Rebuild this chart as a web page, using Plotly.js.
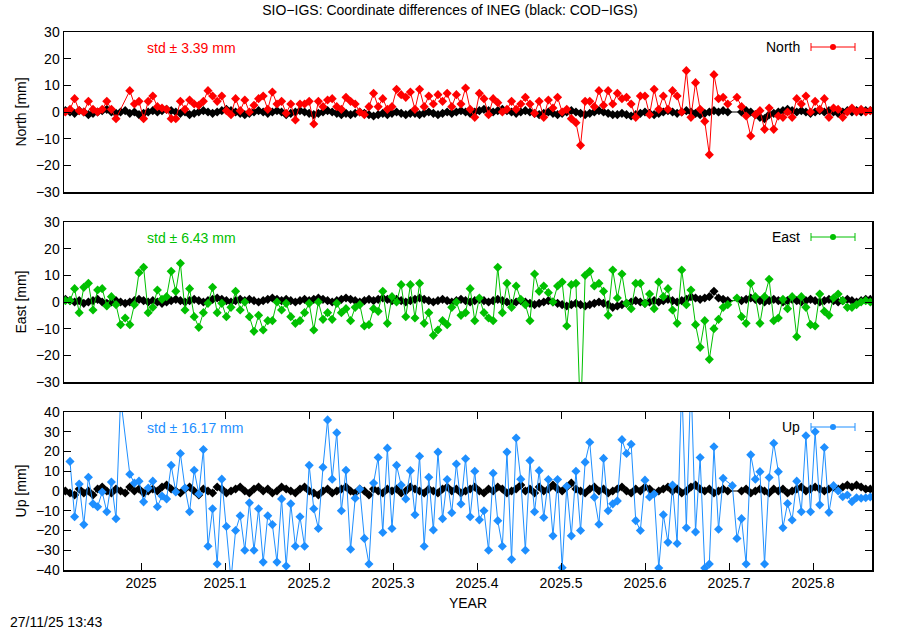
<!DOCTYPE html>
<html>
<head>
<meta charset="utf-8">
<script src="https://cdn.plot.ly/plotly-3.0.1.min.js"></script>
<style>html,body{margin:0;padding:0;background:#fff;}#chart{width:900px;height:630px;}</style>
</head>
<body>
<div id="chart"></div>
<script>
// ---- data: daily solutions sampled every 2 days starting at 2024.910 ----
const startYear = 2024.910;
const stepDays = 2;

const xTickVals = [2025, 2025.1, 2025.2, 2025.3, 2025.4, 2025.5, 2025.6, 2025.7, 2025.8];
const xTickText = ['2025', '2025.1', '2025.2', '2025.3', '2025.4', '2025.5', '2025.6', '2025.7', '2025.8'];
const neTicks = [-30, -20, -10, 0, 10, 20, 30];
const upTicks = [-40, -30, -20, -10, 0, 10, 20, 30, 40];

const northSIO = [0,1,5,0.5,0,4,1,0,1,4,1,-2.5,null,null,8,3,4,-2.5,4,6,2,1.5,1,-2.5,-2.5,4,1,4.5,3,2.5,4,8,6,4,6,0.5,-1,5,0.5,4.5,0,2.5,5,6,1,7.5,3,4,-0.5,3,-3,3,3,4,-4.5,4,2,4.5,5,2,
 1,5.5,4,3,0,-1,2,7,2,5,1,2,8.5,6.5,5.5,7.5,1,8.5,2,6,3,6.5,4,7,2,6.5,3,9,1,-2,7,5,-1,5,3.5,0,1,4,1,3,5.5,3,-0.5,4,-2,4.5,1.5,5.5,0,1,-2.5,-4,-12.5,4,4,2,8,2.5,8,3,
 7,5,5.5,3,-2,6,6,-1,8.5,1,6,1,8,6,0,15.5,-2,11,1,-3.5,-16,14,5,5.5,3,null,5.5,2,-1.5,-9,-1,0.5,-6.5,1.5,-6.5,-1.5,-2,0,-2,5,3,6,0,4,1,5,-2,1.5,1,-2,0,1.5,0,1,0,0.5];

const eastSIO = [0.5,0.5,5,-4,5.5,7,-3,4.5,5,-1.5,2,-1,-8.5,-6,-8.5,-1,11,13,-4,-2,4.5,1,2,11.5,4,14.5,-3,5,-5.5,-9.5,-4,-0.5,5.5,-4,-0.5,-5.5,-2,4,-3,0,-5.5,-11,-5,-10.5,-7,-7,0,-3,-0.5,-5.5,-8,-7,-4,-0.5,-10.5,0,-6.5,-4,-6.5,-0.5,
 -4,-2.5,-7,-2,-1,-9,-8.5,-2.5,-3.5,4,-8,2,0,6.5,-5.5,6.5,-6,7,-8,-4,-12.5,-10.5,-7,-8.5,-2,0,-5,-4,5,-7,1.5,-4,-6,-7,13,-4,7,-2,6,1,-1,-7,10.5,4,6,3.5,0,6,7.5,-9,6.5,7,-45,10,11.5,6,7,4,-5,12,
 1.5,10.5,-0.5,-2.5,7,7,-0.5,3,-2.5,7.5,2,5,-3,-8,12,-1,4.5,-8.5,-17,-7,-21.5,-10,-6.5,-2,-1,null,1.5,-5.5,-8,7,2,-8,2,8.5,-7,-6,1,-2.5,2,-13,2,-2,-8.5,-9,3,-3.5,-5,1.5,3,0.5,-2,-2,-1,0,0.5,0];

const upSIO = [null,15,-13,3.5,-17,7,-6.5,-8,-0.5,-10.5,4.5,-14,47,null,8.5,4,5,-5.5,1.5,5,-8,-2.5,-4,13,-0.5,19,1.5,-10.5,10.5,-1.5,21,-28,-9,-37,6,-18,-45,-20,-12.5,-30,-6,-30,-9,-36,-12.5,-17,-36,-4,-38,-6.5,-28,-13,-28,13,-9,-19,12,36,6,29.5,
 -10,10.5,-29.5,-3.7,1,-24,-37,4,17,-21,21.7,-19,13,3,-4,10.3,-12,17.6,-28,7,-19.7,19.7,-14,5.8,-11,13.7,-6.6,16.3,-13,10,-14.6,-10,-30,9,-15,-28,19.7,-34.6,26.8,6,-30,15.4,-10.5,10.3,-13.4,5.8,-22.7,5.8,-38.8,2.4,-22.7,10,-20,14.6,24.7,-3.2,-16.8,16.5,-10,-6.5,
 -5,26,19,23.7,-15,-20,5.5,-3,-1.5,-39,-12,-26,3,-26.6,55,-18.6,58,-20.7,17,-39,-37,22.4,-19.4,6.4,null,2.7,-24,-14,-37,18.3,6,9.8,-37,6.8,24.2,9.8,-18.6,-6.3,-14.7,5,-10.5,28,-10.5,30,-7,22,-10.8,2.7,0,-2.9,-2,-5.4,-3.4,-3.7,-3.4,-3];

const northCOD = [0.5,0,-0.5,0.5,0,-1,-0.5,0,0.5,1,0,-0.5,0,0.5,-0.5,0,-1,-0.5,0,0.5,
 0,0.5,1,0.5,0,-0.5,0,-1,-0.5,0,0.5,0,-0.5,0,0.5,1,0.5,0,-0.5,-1,
 -0.5,0,0.5,0,-0.5,0,0.5,0,-1,-0.5,0,0.5,0,-0.5,-1,-0.5,0,0.5,0,-0.5,
 -1,-0.5,-1,-0.5,0,-0.5,-1,-1.5,-1,-0.5,-1,-0.5,0,-0.5,-1,-0.5,-0.5,-1,-0.5,0,
 -0.5,-1,-0.5,0,-0.5,0,0.5,0,-0.5,0,0.5,1,0.5,0,0.5,1,0.5,0,-0.5,0,
 0.5,0,-0.5,-1,-0.5,0,-0.5,-1,-0.5,0,0.5,0,-0.5,-1,-0.5,0,0.5,0,-0.5,-1,
 -1,-0.5,-1,-1.5,-1,-0.5,0,-0.5,-1,-0.5,0,0.5,0,-0.5,0,0.5,0,-0.5,-1,-0.5,
 0,0.5,0,0.5,0,null,null,0,0.5,0,-1,-2,-2.5,-1,-0.5,0,0.5,1,0.5,0,
 0.5,0,-0.5,0,0.5,0,0.5,0,-0.5,0,0.5,0,0.5,0,0.5,0.5];

const eastCOD = [1,0.5,0,0.5,-0.5,0,0.5,1,0,-0.5,0,0.5,0,-0.5,0,0.5,1,0.5,0,0.5,
 0,-0.5,0,0.5,1,0.5,0,0.5,1,0.5,0,0.5,1,1.5,1,0.5,0,0.5,1,0.5,
 1,0.5,0,0.5,1,1.5,1,0.5,1,0.5,0,0.5,1,0.5,1,1.5,1,0.5,0,0.5,
 1,1.5,1,0.5,0,0.5,1,0.5,1,1.5,1,0.5,1,0.5,0,0.5,1,1.5,1,0.5,
 0,0.5,1,0.5,0,0.5,1,0.5,0,0.5,1,0.5,0,0.5,1,0.5,0,-0.5,0,0.5,
 0,-0.5,-1,-0.5,0,0.5,0,-0.5,-1,-1.5,-1,-0.5,-1,-1.5,-1,-0.5,0,-0.5,-1,-2,
 -1.5,-1,-0.5,0,0.5,0,-0.5,0,0.5,0,0.5,1,0.5,0,0.5,1,2,1.5,1,1.5,
 2,4,1.5,1,0.5,null,null,0.5,1,1.5,1,0.5,0,0.5,1,0.5,0,0.5,1,0.5,
 0,0.5,1,0.5,0,0.5,1,0.5,0,0.5,1,0.5,0,0.5,1,1];

const upCOD = [0,-1,-2,1,-1,0,-2,1,2,0,-1,1,0,-1,2,0,1,-1,0,1,
 0,2,3,1,0,-1,1,2,0,-2,1,0,-1,2,1,-1,0,1,2,0,
 -1,1,2,0,1,-1,0,2,1,0,-1,1,2,0,-1,-2,0,1,-1,0,
 1,2,0,-1,1,0,-2,1,0,-1,1,0,1,-1,0,2,1,0,-1,1,
 0,-1,1,2,0,1,-1,0,1,2,0,-1,1,0,2,1,-1,0,1,3,
 0,1,-1,2,0,1,3,1,0,2,4,1,0,-1,1,2,0,1,-1,0,
 1,2,0,-1,1,0,2,1,-1,0,1,2,0,1,-1,0,2,3,1,0,
 1,-1,0,1,0,null,null,0,1,-1,0,1,0,-1,1,0,1,-1,0,1,
 2,0,1,2,1,0,1,2,1,2,3,2,3,2,1,1];

const stdText = ['std ± 3.39 mm', 'std ± 6.43 mm', 'std ± 16.17 mm'];
const compNames = ['North', 'East', 'Up'];

// ---- build ----
const years = northCOD.map((_, i) => startYear + i * stepDays / 365.25);
const RED = '#ff0000', GREEN = '#00c000', BLUE = '#1e8fff';
const colors = [RED, GREEN, BLUE];
const sio = [northSIO, eastSIO, upSIO];
const cod = [northCOD, eastCOD, upCOD];
const axSuffix = ['', '2', '3'];

const traces = [];
for (let k = 0; k < 3; k++) {
  traces.push({
    x: years, y: cod[k], xaxis: 'x' + axSuffix[k], yaxis: 'y' + axSuffix[k],
    type: 'scatter', mode: 'lines+markers', connectgaps: true,
    line: {color: '#000000', width: 1},
    marker: {symbol: 'diamond', size: 7, color: '#000000'},
    showlegend: false, hoverinfo: 'skip'
  });
  traces.push({
    x: years, y: sio[k], xaxis: 'x' + axSuffix[k], yaxis: 'y' + axSuffix[k],
    type: 'scatter', mode: 'lines+markers', connectgaps: true,
    line: {color: colors[k], width: 1},
    marker: {symbol: 'diamond', size: 7, color: colors[k]},
    name: compNames[k], showlegend: false
  });
}

// pixel helpers for the 900x630 page (plot area 64..872 x 32..570)
const L = 64, R = 872, T = 32, B = 570;
const px = v => (v - L) / (R - L);
const py = v => (B - v) / (B - T);

const FONT = 'Liberation Sans, Arial, sans-serif';
const panelTop = [32, 222, 412];
const panelBot = [192, 382, 570];

const annotations = [];
const shapes = [];
for (let k = 0; k < 3; k++) {
  const t = panelTop[k];
  annotations.push({xref: 'paper', yref: 'paper', x: px(145), y: py(t + 16), xanchor: 'left', yanchor: 'middle',
    text: stdText[k], showarrow: false, font: {family: FONT, size: 14, color: colors[k]}});
  annotations.push({xref: 'paper', yref: 'paper', x: px(802), y: py(t + 15), xanchor: 'right', yanchor: 'middle',
    text: compNames[k], showarrow: false, font: {family: FONT, size: 14, color: '#000'}});
  const ly = t + 15;
  shapes.push({type: 'line', xref: 'paper', yref: 'paper', x0: px(811), x1: px(855), y0: py(ly), y1: py(ly), line: {color: colors[k], width: 1}});
  shapes.push({type: 'line', xref: 'paper', yref: 'paper', x0: px(811), x1: px(811), y0: py(ly - 4), y1: py(ly + 4), line: {color: colors[k], width: 1}});
  shapes.push({type: 'line', xref: 'paper', yref: 'paper', x0: px(855), x1: px(855), y0: py(ly - 4), y1: py(ly + 4), line: {color: colors[k], width: 1}});
  shapes.push({type: 'circle', xref: 'paper', yref: 'paper', x0: px(830), x1: px(836), y0: py(ly + 3), y1: py(ly - 3), fillcolor: colors[k], line: {color: colors[k], width: 0}});
}
annotations.push({xref: 'paper', yref: 'paper', x: px(8), y: py(622), xanchor: 'left', yanchor: 'middle',
  text: '27/11/25 13:43', showarrow: false, font: {family: FONT, size: 14, color: '#000'}});

const xRange = [2024.90833, 2025.87024];
const baseX = {
  range: xRange, showgrid: false, zeroline: false, showline: true, mirror: true,
  linecolor: '#000', linewidth: 1.5, tickvals: xTickVals, ticktext: xTickText,
  tickfont: {family: FONT, size: 14, color: '#000'}
};
const baseY = {
  showgrid: false, zeroline: false, showline: true, mirror: 'ticks', linecolor: '#000', linewidth: 1.5,
  ticks: 'inside', ticklen: 7, tickcolor: '#000', tickwidth: 1,
  tickfont: {family: FONT, size: 14, color: '#000'}
};

const layout = {
  width: 900, height: 630,
  margin: {l: L, r: 900 - R, t: T, b: 630 - B, pad: 0},
  paper_bgcolor: '#fff', plot_bgcolor: '#fff',
  font: {family: FONT, size: 14, color: '#000'},
  title: {text: 'SIO−IGS: Coordinate differences of INEG (black: COD−IGS)', xref: 'container', x: 0.5, xanchor: 'center',
    yref: 'container', y: 1 - 10 / 630, yanchor: 'middle', font: {family: FONT, size: 14, color: '#000'}},
  showlegend: false,
  xaxis: Object.assign({}, baseX, {domain: [0, 1], anchor: 'y', showticklabels: false, ticks: ''}),
  xaxis2: Object.assign({}, baseX, {domain: [0, 1], anchor: 'y2', showticklabels: false, ticks: '', matches: 'x'}),
  xaxis3: Object.assign({}, baseX, {domain: [0, 1], anchor: 'y3', ticks: 'inside', ticklen: 7, tickcolor: '#000', mirror: 'ticks', matches: 'x',
    title: {text: 'YEAR', font: {family: FONT, size: 14, color: '#000'}, standoff: 8}}),
  yaxis: Object.assign({}, baseY, {domain: [py(192), py(32)], anchor: 'x', range: [-30, 30], tickvals: neTicks,
    title: {text: 'North [mm]', font: {family: FONT, size: 14, color: '#000'}}}),
  yaxis2: Object.assign({}, baseY, {domain: [py(382), py(222)], anchor: 'x2', range: [-30, 30], tickvals: neTicks,
    title: {text: 'East [mm]', font: {family: FONT, size: 14, color: '#000'}}}),
  yaxis3: Object.assign({}, baseY, {domain: [py(570), py(412)], anchor: 'x3', range: [-40, 40], tickvals: upTicks,
    title: {text: 'Up [mm]', font: {family: FONT, size: 14, color: '#000'}}}),
  annotations: annotations,
  shapes: shapes
};

Plotly.newPlot('chart', traces, layout, {displayModeBar: false, staticPlot: true});
</script>
</body>
</html>
